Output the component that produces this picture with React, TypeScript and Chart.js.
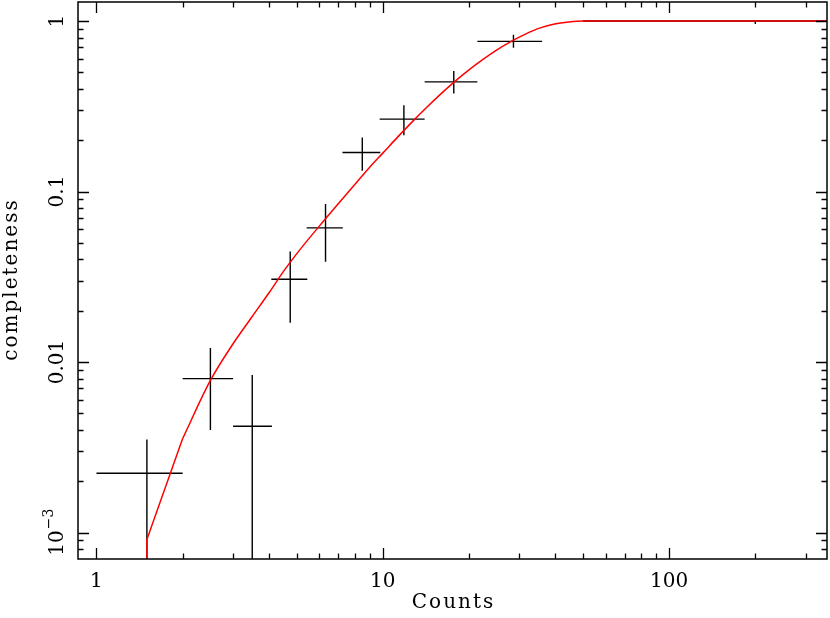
import React, { useEffect, useRef } from "react";
import { Chart, registerables } from "chart.js";

Chart.register(...registerables);

// Axis ranges
const X_MIN = 0.862;
const X_MAX = 356;
const Y_MIN = 7.0e-4;
const Y_MAX = 1.293;

// Binned completeness measurements
const binCenters = [1.5, 2.5, 3.5, 4.75, 6.31, 8.48, 11.85, 17.7, 28.6, 200];
const binLow = [1, 2, 3, 4.08, 5.42, 7.23, 9.75, 14.0, 21.4, 50];
const binHigh = [2, 3, 4.1, 5.45, 7.25, 9.8, 14.0, 21.4, 36, 400];
const compValues = [2.23e-3, 8.0e-3, 4.2e-3, 0.0306, 0.0612, 0.1696, 0.266, 0.44, 0.76, 1.0];
const compLow = [1e-5, 4.0e-3, 1e-5, 0.017, 0.0387, 0.1323, 0.214, 0.376, 0.697, 0.96];
const compHigh = [3.51e-3, 1.21e-2, 8.4e-3, 0.0445, 0.0844, 0.2077, 0.321, 0.509, 0.83, 1.0];

// Model curve (red): low-count straight part and smooth part
const modelLowCounts = [1.5, 1.5, 2];
const modelLowComp = [1e-5, 9.1e-4, 3.56e-3];
const modelCounts = [2, 2.5, 3, 3.5, 4, 4.5, 5, 6, 7, 8, 9, 10, 11.22, 12.59, 14.13, 15.85, 17.78, 19.95, 22.39, 25.12, 28.18, 31.62, 35.48, 39.81, 44.67, 50.1, 356];
const modelComp = [3.56e-3, 7.8e-3, 0.0128, 0.0185, 0.0254, 0.034, 0.0431, 0.0627, 0.0851, 0.1104, 0.139, 0.168, 0.2071, 0.2537, 0.308, 0.3703, 0.44, 0.5158, 0.5955, 0.679, 0.7626, 0.8414, 0.912, 0.962, 0.988, 1.0, 1.0];

// Ticks
const xMajorTicks = [1, 10, 100];
const xTickLabels = ["1", "10", "100"];
const xMinorTicks = [2, 3, 4, 5, 6, 7, 8, 9, 20, 30, 40, 50, 60, 70, 80, 90, 200, 300];
const yMajorTicks = [0.001, 0.01, 0.1, 1];
const yTickLabelMain = ["10", "0.01", "0.1", "1"];
const yTickLabelSup = ["\u22123", "", "", ""];
const yMinorTicks = [
  8e-4, 9e-4,
  2e-3, 3e-3, 4e-3, 5e-3, 6e-3, 7e-3, 8e-3, 9e-3,
  0.02, 0.03, 0.04, 0.05, 0.06, 0.07, 0.08, 0.09,
  0.2, 0.3, 0.4, 0.5, 0.6, 0.7, 0.8, 0.9,
];

const X_TITLE = "Counts";
const Y_TITLE = "completeness";
const FONT = "'DejaVu Serif', serif";

const framePlugin = {
  id: "pgFrame",
  afterDraw(chart: any) {
    const { ctx, chartArea, scales } = chart;
    const xs = scales.x;
    const ys = scales.y;
    const { left, right, top, bottom } = chartArea;
    ctx.save();
    ctx.strokeStyle = "#000";
    ctx.lineWidth = 1.5;
    ctx.strokeRect(left, top, right - left, bottom - top);

    const majLen = 11;
    const minLen = 5.5;
    ctx.lineWidth = 1.3;
    ctx.beginPath();
    const xTick = (v: number, len: number) => {
      const px = Math.round(xs.getPixelForValue(v)) + 0.5;
      ctx.moveTo(px, bottom);
      ctx.lineTo(px, bottom - len);
      ctx.moveTo(px, top);
      ctx.lineTo(px, top + len);
    };
    const yTick = (v: number, len: number) => {
      const py = Math.round(ys.getPixelForValue(v)) + 0.5;
      ctx.moveTo(left, py);
      ctx.lineTo(left + len, py);
      ctx.moveTo(right, py);
      ctx.lineTo(right - len, py);
    };
    xMajorTicks.forEach((v) => xTick(v, majLen));
    xMinorTicks.forEach((v) => xTick(v, minLen));
    yMajorTicks.forEach((v) => yTick(v, majLen));
    yMinorTicks.forEach((v) => yTick(v, minLen));
    ctx.stroke();

    ctx.fillStyle = "#000";
    // x tick labels
    ctx.font = `20px ${FONT}`;
    ctx.textAlign = "center";
    ctx.textBaseline = "alphabetic";
    xMajorTicks.forEach((v, i) => {
      ctx.fillText(xTickLabels[i], xs.getPixelForValue(v), 587);
    });

    // y tick labels (rotated)
    yMajorTicks.forEach((v, i) => {
      const py = ys.getPixelForValue(v);
      ctx.save();
      ctx.translate(63, py);
      ctx.rotate(-Math.PI / 2);
      ctx.textAlign = "left";
      ctx.font = `20px ${FONT}`;
      const main = yTickLabelMain[i];
      const sup = yTickLabelSup[i];
      const w1 = ctx.measureText(main).width;
      ctx.font = `14px ${FONT}`;
      const w2 = sup ? ctx.measureText(sup).width : 0;
      const start = -(w1 + w2) / 2;
      ctx.font = `20px ${FONT}`;
      ctx.fillText(main, start, 0);
      if (sup) {
        ctx.font = `14px ${FONT}`;
        ctx.fillText(sup, start + w1 + 1, -10);
      }
      ctx.restore();
    });

    // titles
    ctx.font = `20px ${FONT}`;
    (ctx as any).letterSpacing = "2px";
    ctx.textAlign = "center";
    ctx.fillText(X_TITLE, (left + right) / 2 + 1, 608);
    ctx.save();
    ctx.translate(17, (top + bottom) / 2);
    ctx.rotate(-Math.PI / 2);
    ctx.fillText(Y_TITLE, 1, 0);
    ctx.restore();
    (ctx as any).letterSpacing = "0px";
    ctx.restore();
  },
};

function buildHorizontal() {
  const pts: any[] = [];
  binCenters.forEach((_, i) => {
    pts.push({ x: binLow[i], y: compValues[i] });
    pts.push({ x: binHigh[i], y: compValues[i] });
    pts.push({ x: binHigh[i], y: null });
  });
  return pts;
}

function buildVertical() {
  const pts: any[] = [];
  binCenters.forEach((c, i) => {
    pts.push({ x: c, y: compLow[i] });
    pts.push({ x: c, y: compHigh[i] });
    pts.push({ x: c, y: null });
  });
  return pts;
}

export default function App() {
  const canvasRef = useRef<HTMLCanvasElement | null>(null);

  useEffect(() => {
    if (!canvasRef.current) return;
    const chart = new Chart(canvasRef.current, {
      type: "scatter",
      data: {
        datasets: [
          {
            label: "model",
            data: modelCounts.map((x, i) => ({ x, y: modelComp[i] })),
            showLine: true,
            borderColor: "#ff0000",
            borderWidth: 1.5,
            pointRadius: 0,
            cubicInterpolationMode: "monotone",
          },
          {
            label: "model low",
            data: modelLowCounts.map((x, i) => ({ x, y: modelLowComp[i] })),
            showLine: true,
            borderColor: "#ff0000",
            borderWidth: 1.5,
            pointRadius: 0,
            tension: 0,
          },
          {
            label: "xerr",
            data: buildHorizontal(),
            showLine: true,
            spanGaps: false,
            borderColor: "#000",
            borderWidth: 1.4,
            pointRadius: 0,
          },
          {
            label: "yerr",
            data: buildVertical(),
            showLine: true,
            spanGaps: false,
            borderColor: "#000",
            borderWidth: 1.4,
            pointRadius: 0,
          },
        ],
      },
      options: {
        responsive: false,
        animation: false,
        events: [],
        layout: { padding: { left: 78, top: 2, right: 3, bottom: 59 } },
        plugins: {
          legend: { display: false },
          tooltip: { enabled: false },
          title: { display: false },
        },
        scales: {
          x: {
            type: "logarithmic",
            min: X_MIN,
            max: X_MAX,
            display: false,
          },
          y: {
            type: "logarithmic",
            min: Y_MIN,
            max: Y_MAX,
            display: false,
          },
        },
      },
      plugins: [framePlugin],
    });
    return () => chart.destroy();
  }, []);

  return (
    <div style={{ position: "fixed", left: 0, top: 0, width: 830, height: 618, background: "#fff" }}>
      <canvas ref={canvasRef} width={830} height={618} style={{ display: "block" }} />
    </div>
  );
}
